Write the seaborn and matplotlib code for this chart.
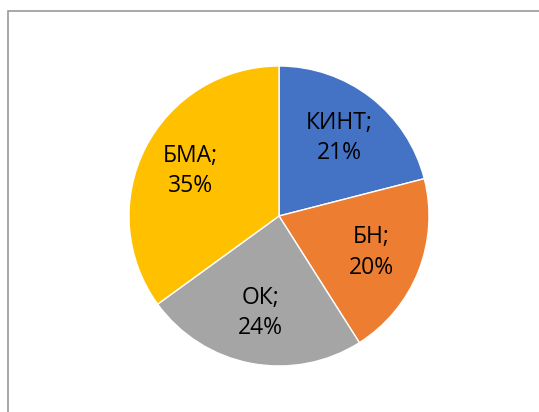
import matplotlib
matplotlib.use('Agg')
import matplotlib.pyplot as plt
import seaborn as sns
from matplotlib.patches import Rectangle

# данные
categories = ['КИНТ', 'БН', 'ОК', 'БМА']
shares = [21, 20, 24, 35]
colors = ['#4472C4', '#ED7D31', '#A5A5A5', '#FFC000']

sns.set_theme(style='white')
plt.rcParams['font.family'] = ['Open Sans', 'DejaVu Sans']

fig = plt.figure(figsize=(5.39, 4.12), dpi=100)
fig.patch.set_facecolor('white')

# рамка диаграммы (видны только верх и левый край)
fig.patches.append(Rectangle((8 / 539, -0.5), 2, 0.973 + 0.5, transform=fig.transFigure,
                             fill=False, edgecolor='#9A9A9A', linewidth=1.2))

ax = fig.add_axes([129 / 539, 46 / 412, 300 / 539, 300 / 412])
labels = [f'{c};\n{s}%' for c, s in zip(categories, shares)]
wedges, texts = ax.pie(shares, labels=labels, colors=colors, startangle=90, counterclock=False,
                       labeldistance=0.66, radius=1,
                       wedgeprops={'edgecolor': 'white', 'linewidth': 1},
                       textprops={'fontsize': 16.5, 'color': 'black', 'linespacing': 1.35})
for t in texts:
    t.set_horizontalalignment('center')
    t.set_verticalalignment('center')
ax.set_xlim(-1, 1)
ax.set_ylim(-1, 1)
ax.axis('off')

fig.savefig('out.png', dpi=100)
